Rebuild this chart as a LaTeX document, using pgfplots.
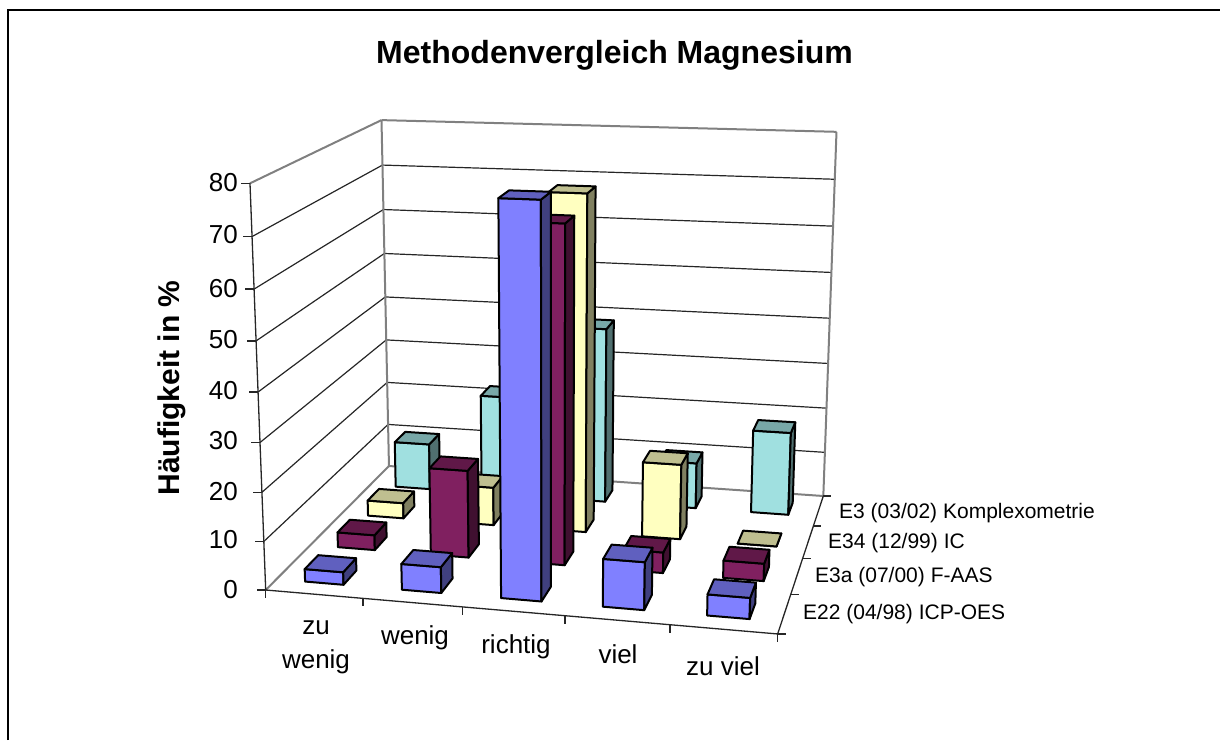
\documentclass[border=0pt]{standalone}
\usepackage{pgfplots}
\pgfplotsset{compat=1.18}
\usepackage{fontspec}
\setmainfont{Liberation Sans}
% perspective projection of (category u, depth w, height h) on the picture
\newcommand\proj[5]{%
  \pgfmathsetmacro\dn{1-0.0612*(#1)+0.1852*(#2)-0.052*(#3)}%
  \pgfmathsetmacro#4{(464.4*(#1)+195.3*(#2)-28.7*(#3)+265.7)/\dn}%
  \pgfmathsetmacro#5{(5.2*(#1)-37.7*(#2)-416.2*(#3)+590)/\dn}}
\newcommand\seg[7]{%
  \proj{#1}{#2}{#3}\ax\ay\proj{#4}{#5}{#6}\bx\by
  \edef\tmp{\noexpand\addplot[#7] coordinates {(\ax,\ay) (\bx,\by)};}\tmp}
\newcommand\tick[6]{% u w h dx dy style
  \proj{#1}{#2}{#3}\ax\ay
  \pgfmathsetmacro\bx{\ax+(#4)}\pgfmathsetmacro\by{\ay+(#5)}%
  \edef\tmp{\noexpand\addplot[#6] coordinates {(\ax,\ay) (\bx,\by)};}\tmp}
\newcommand\face[5]{%
  \edef\tmp{\noexpand\addplot[fill=#5,draw=black,line width=2pt,line join=round]
    coordinates {(#1) (#2) (#3) (#4)} -- cycle;}\tmp}
% one bar: category i, series j, value, front, top and side colours
\newcommand\barr[6]{%
  \pgfmathsetmacro\ul{(#1+0.3)/5}\pgfmathsetmacro\ur{(#1+0.7)/5}%
  \pgfmathsetmacro\wf{(#2+0.3)/4}\pgfmathsetmacro\wb{(#2+0.7)/4}%
  \pgfmathsetmacro\hh{(#3)/80}%
  \proj\ul\wf{0}\Ax\Ay \proj\ur\wf{0}\Bx\By \proj\ur\wb{0}\Cx\Cy
  \proj\ul\wf\hh\Ex\Ey \proj\ur\wf\hh\Fx\Fy \proj\ur\wb\hh\Gx\Gy \proj\ul\wb\hh\Kx\Ky
  \face{\Ax,\Ay}{\Bx,\By}{\Fx,\Fy}{\Ex,\Ey}{#4}%
  \face{\Bx,\By}{\Cx,\Cy}{\Gx,\Gy}{\Fx,\Fy}{#6}%
  \face{\Ex,\Ey}{\Fx,\Fy}{\Gx,\Gy}{\Kx,\Ky}{#5}}
\definecolor{bF}{HTML}{8080FF}\definecolor{bT}{HTML}{6060BF}\definecolor{bS}{HTML}{40407F}
\definecolor{mF}{HTML}{802060}\definecolor{mT}{HTML}{601848}\definecolor{mS}{HTML}{401030}
\definecolor{yF}{HTML}{FFFFC0}\definecolor{yT}{HTML}{BFBF90}\definecolor{yS}{HTML}{808060}
\definecolor{cF}{HTML}{A0E0E0}\definecolor{cT}{HTML}{78A8A8}\definecolor{cS}{HTML}{507070}
\tikzset{wallc/.style={color=black!50,line width=2pt},
  gridl/.style={color=black!85,line width=1.2pt},
  axl/.style={color=black!85,line width=1.3pt}}
\newcommand\tf{\fontsize{26}{34}\selectfont}
\newcommand\lf{\fontsize{21}{24}\selectfont}
\begin{document}
\begin{tikzpicture}
\useasboundingbox (0,0) rectangle (1220pt,740pt);
\begin{axis}[at={(0,0)},anchor=south west,scale only axis,width=1220pt,height=740pt,
  xmin=0,xmax=1220,ymin=0,ymax=740,y dir=reverse,hide axis,clip=false]
% chart frame
\addplot[color=black,line width=2pt] coordinates {(8,740) (8,10) (1220,10)};
% walls
\pgfplotsinvokeforeach{1,...,7}{
  \seg{0}{0}{#1/8}{0}{1}{#1/8}{gridl}
  \seg{0}{1}{#1/8}{1}{1}{#1/8}{gridl}
}
\seg{0}{0}{0}{0}{1}{0}{wallc}
\seg{0}{1}{0}{1}{1}{0}{wallc}
\seg{0}{0}{1}{0}{1}{1}{wallc}
\seg{0}{1}{1}{1}{1}{1}{wallc}
\seg{0}{1}{0}{0}{1}{1}{wallc}
\seg{1}{1}{0}{1}{1}{1}{wallc}
% axes and ticks
\seg{0}{0}{0}{0}{0}{1}{axl}
\seg{0}{0}{0}{1}{0}{0}{axl}
\seg{1}{0}{0}{1}{1}{0}{axl}
\pgfplotsinvokeforeach{0,...,8}{\tick{0}{0}{#1/8}{-9}{0}{axl}}
\pgfplotsinvokeforeach{0,...,5}{\tick{#1/5}{0}{0}{0}{8}{axl}}
\pgfplotsinvokeforeach{0,...,4}{\tick{1}{#1/4}{0}{8}{0}{axl}}
% E3 (03/02) Komplexometrie
\barr{0}{3}{10.4}{cF}{cT}{cS}
\barr{1}{3}{22.3}{cF}{cT}{cS}
\barr{2}{3}{38.7}{cF}{cT}{cS}
\barr{3}{3}{10.1}{cF}{cT}{cS}
\barr{4}{3}{18.2}{cF}{cT}{cS}
% E34 (12/99) IC
\barr{0}{2}{3.4}{yF}{yT}{yS}
\barr{1}{2}{8.3}{yF}{yT}{yS}
\barr{2}{2}{71.6}{yF}{yT}{yS}
\barr{3}{2}{16.1}{yF}{yT}{yS}
\barr{4}{2}{0}{yF}{yT}{yS}
% E3a (07/00) F-AAS
\barr{0}{1}{3.2}{mF}{mT}{mS}
\barr{1}{1}{18.4}{mF}{mT}{mS}
\barr{2}{1}{69.4}{mF}{mT}{mS}
\barr{3}{1}{4.3}{mF}{mT}{mS}
\barr{4}{1}{3.6}{mF}{mT}{mS}
% E22 (04/98) ICP-OES
\barr{0}{0}{2.6}{bF}{bT}{bS}
\barr{1}{0}{5.3}{bF}{bT}{bS}
\barr{2}{0}{77.7}{bF}{bT}{bS}
\barr{3}{0}{9.6}{bF}{bT}{bS}
\barr{4}{0}{4.2}{bF}{bT}{bS}
% text
\node[font=\fontsize{32}{38}\selectfont\bfseries] at (axis cs:614.5,55) {Methodenvergleich Magnesium};
\node[font=\fontsize{30}{36}\selectfont\bfseries,rotate=90] at (axis cs:172,388) {Häufigkeit in \%};
\node[font=\tf,anchor=east,inner sep=0pt] at (axis cs:238,183) {80};
\node[font=\tf,anchor=east,inner sep=0pt] at (axis cs:238,235) {70};
\node[font=\tf,anchor=east,inner sep=0pt] at (axis cs:238,289) {60};
\node[font=\tf,anchor=east,inner sep=0pt] at (axis cs:238,340) {50};
\node[font=\tf,anchor=east,inner sep=0pt] at (axis cs:238,391) {40};
\node[font=\tf,anchor=east,inner sep=0pt] at (axis cs:238,441) {30};
\node[font=\tf,anchor=east,inner sep=0pt] at (axis cs:238,492) {20};
\node[font=\tf,anchor=east,inner sep=0pt] at (axis cs:238,540) {10};
\node[font=\tf,anchor=east,inner sep=0pt] at (axis cs:238,590) {0};
\node[font=\tf,align=center] at (axis cs:316,647) {zu\\wenig};
\node[font=\tf] at (axis cs:415,638) {wenig};
\node[font=\tf] at (axis cs:516,647) {richtig};
\node[font=\tf] at (axis cs:618,654) {viel};
\node[font=\tf] at (axis cs:723,666) {zu viel};
\node[font=\lf,anchor=west,inner sep=0pt] at (axis cs:839,513) {E3 (03/02) Komplexometrie};
\node[font=\lf,anchor=west,inner sep=0pt] at (axis cs:828,543) {E34 (12/99) IC};
\node[font=\lf,anchor=west,inner sep=0pt] at (axis cs:815,577) {E3a (07/00) F-AAS};
\node[font=\lf,anchor=west,inner sep=0pt] at (axis cs:803,614) {E22 (04/98) ICP-OES};
\end{axis}
\end{tikzpicture}
\end{document}
